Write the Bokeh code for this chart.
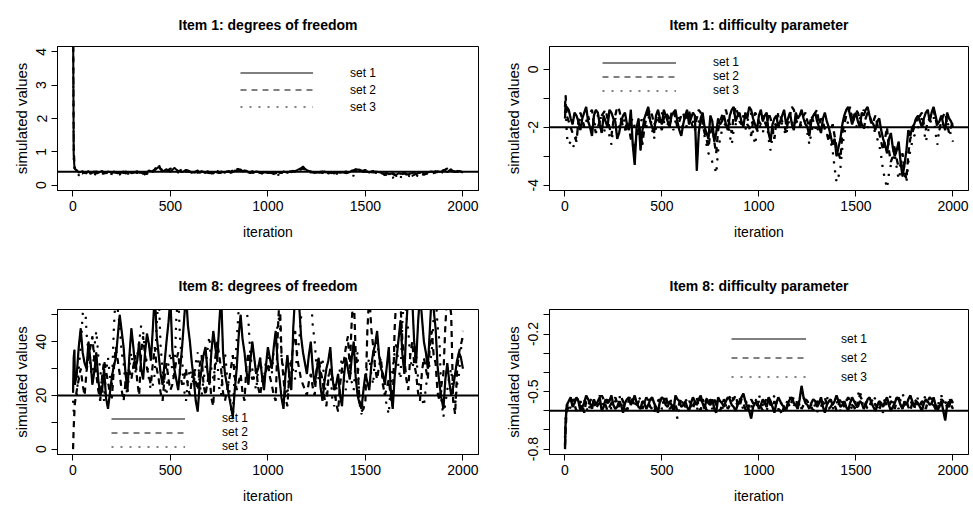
from bokeh.plotting import figure
from bokeh.models import Range1d, FixedTicker, Span, Legend, LegendItem
from bokeh.layouts import column, row
from bokeh.embed import file_html
from bokeh.resources import INLINE

# iteration index of the (thinned) samples
ITER = [1, 4, 8] + list(range(10, 2001, 10))

SET_LABELS = ["set 1", "set 2", "set 3"]
X_TICKS = [0, 500, 1000, 1500, 2000]

# ---------------- Item 1: degrees of freedom ----------------
df1_set1 = [5.2, 0.9, 0.55,
    0.48, 0.45, 0.38, 0.40, 0.42, 0.36, 0.39, 0.42, 0.34, 0.38, 0.41, 0.35, 0.37, 0.40, 0.43, 0.37, 0.36, 0.41, 0.39, 0.36,
    0.41, 0.39, 0.37, 0.35, 0.38, 0.41, 0.35, 0.38, 0.40, 0.36, 0.37, 0.40, 0.42, 0.37, 0.38, 0.34, 0.36, 0.39, 0.44, 0.42,
    0.40, 0.45, 0.50, 0.55, 0.47, 0.42, 0.44, 0.48, 0.43, 0.40, 0.46, 0.52, 0.47, 0.43, 0.41, 0.39, 0.42, 0.46, 0.44, 0.41,
    0.39, 0.38, 0.41, 0.44, 0.37, 0.40, 0.39, 0.36, 0.42, 0.39, 0.37, 0.35, 0.40, 0.38, 0.36, 0.41, 0.39, 0.37, 0.42, 0.40,
    0.37, 0.39, 0.44, 0.42, 0.45, 0.47, 0.41, 0.44, 0.43, 0.40, 0.36, 0.38, 0.39, 0.41, 0.40, 0.37, 0.35, 0.39, 0.38, 0.36,
    0.38, 0.40, 0.37, 0.35, 0.40, 0.38, 0.36, 0.41, 0.39, 0.37, 0.41, 0.39, 0.40, 0.43, 0.45, 0.48, 0.51, 0.56, 0.49, 0.45,
    0.43, 0.41, 0.39, 0.38, 0.37, 0.40, 0.38, 0.36, 0.41, 0.39, 0.35, 0.37, 0.38, 0.35, 0.40, 0.38, 0.37, 0.40, 0.38, 0.36,
    0.37, 0.39, 0.44, 0.42, 0.45, 0.47, 0.46, 0.44, 0.39, 0.41, 0.40, 0.38, 0.41, 0.43, 0.38, 0.40, 0.39, 0.37, 0.36, 0.35,
    0.37, 0.33, 0.34, 0.36, 0.33, 0.31, 0.36, 0.34, 0.35, 0.38, 0.34, 0.32, 0.35, 0.36, 0.38, 0.34, 0.36, 0.37, 0.39, 0.35,
    0.36, 0.38, 0.40, 0.41, 0.39, 0.37, 0.42, 0.40, 0.41, 0.44, 0.42, 0.39, 0.44, 0.46, 0.43, 0.41, 0.40, 0.43, 0.41, 0.38]
df1_set2 = [6.5, 1.2, 0.7,
    0.50, 0.42, 0.39, 0.37, 0.35, 0.40, 0.37, 0.34, 0.36, 0.39, 0.38, 0.41, 0.39, 0.36, 0.35, 0.38, 0.37, 0.35, 0.38, 0.40,
    0.38, 0.37, 0.36, 0.40, 0.38, 0.36, 0.41, 0.39, 0.40, 0.42, 0.39, 0.38, 0.37, 0.35, 0.34, 0.37, 0.35, 0.33, 0.41, 0.38,
    0.43, 0.48, 0.57, 0.62, 0.49, 0.44, 0.42, 0.40, 0.46, 0.50, 0.48, 0.45, 0.43, 0.41, 0.44, 0.47, 0.45, 0.43, 0.41, 0.39,
    0.37, 0.41, 0.39, 0.37, 0.40, 0.42, 0.38, 0.39, 0.37, 0.36, 0.38, 0.40, 0.41, 0.43, 0.40, 0.38, 0.39, 0.41, 0.42, 0.39,
    0.41, 0.44, 0.47, 0.50, 0.48, 0.45, 0.43, 0.41, 0.40, 0.38, 0.39, 0.42, 0.41, 0.39, 0.38, 0.37, 0.36, 0.40, 0.39, 0.38,
    0.37, 0.36, 0.33, 0.31, 0.34, 0.37, 0.38, 0.40, 0.41, 0.38, 0.40, 0.42, 0.43, 0.40, 0.42, 0.45, 0.47, 0.50, 0.46, 0.43,
    0.41, 0.40, 0.38, 0.37, 0.36, 0.39, 0.40, 0.41, 0.39, 0.38, 0.37, 0.35, 0.37, 0.39, 0.38, 0.36, 0.35, 0.38, 0.39, 0.41,
    0.40, 0.37, 0.42, 0.45, 0.48, 0.50, 0.45, 0.42, 0.44, 0.46, 0.43, 0.40, 0.39, 0.38, 0.40, 0.41, 0.38, 0.36, 0.34, 0.32,
    0.31, 0.29, 0.32, 0.34, 0.30, 0.27, 0.29, 0.31, 0.33, 0.35, 0.32, 0.30, 0.26, 0.28, 0.31, 0.33, 0.34, 0.36, 0.33, 0.31,
    0.33, 0.35, 0.37, 0.39, 0.40, 0.42, 0.39, 0.38, 0.42, 0.45, 0.47, 0.50, 0.46, 0.43, 0.41, 0.40, 0.42, 0.44, 0.40, 0.39]
df1_set3 = [4.6, 0.8, 0.5,
    0.42, 0.38, 0.30, 0.26, 0.29, 0.33, 0.36, 0.38, 0.37, 0.35, 0.33, 0.31, 0.34, 0.37, 0.36, 0.34, 0.37, 0.39, 0.35, 0.33,
    0.34, 0.36, 0.34, 0.32, 0.35, 0.38, 0.36, 0.34, 0.35, 0.37, 0.38, 0.40, 0.36, 0.33, 0.31, 0.29, 0.33, 0.36, 0.38, 0.40,
    0.41, 0.43, 0.47, 0.50, 0.48, 0.46, 0.43, 0.41, 0.45, 0.47, 0.44, 0.42, 0.40, 0.38, 0.41, 0.44, 0.42, 0.40, 0.39, 0.37,
    0.36, 0.39, 0.37, 0.35, 0.38, 0.41, 0.40, 0.38, 0.36, 0.34, 0.35, 0.37, 0.38, 0.40, 0.38, 0.36, 0.37, 0.39, 0.40, 0.42,
    0.41, 0.40, 0.44, 0.47, 0.49, 0.52, 0.46, 0.43, 0.41, 0.39, 0.37, 0.36, 0.38, 0.40, 0.39, 0.38, 0.36, 0.35, 0.37, 0.39,
    0.38, 0.37, 0.31, 0.28, 0.30, 0.33, 0.35, 0.38, 0.39, 0.40, 0.38, 0.36, 0.39, 0.41, 0.42, 0.44, 0.48, 0.52, 0.46, 0.42,
    0.40, 0.38, 0.39, 0.41, 0.39, 0.37, 0.38, 0.39, 0.37, 0.36, 0.38, 0.40, 0.39, 0.37, 0.35, 0.33, 0.34, 0.36, 0.37, 0.39,
    0.37, 0.35, 0.30, 0.28, 0.40, 0.44, 0.46, 0.48, 0.42, 0.40, 0.41, 0.43, 0.41, 0.39, 0.37, 0.36, 0.35, 0.34, 0.32, 0.30,
    0.28, 0.27, 0.24, 0.22, 0.26, 0.30, 0.27, 0.25, 0.23, 0.21, 0.25, 0.28, 0.26, 0.24, 0.28, 0.30, 0.27, 0.26, 0.30, 0.33,
    0.35, 0.36, 0.34, 0.33, 0.36, 0.38, 0.40, 0.42, 0.39, 0.37, 0.38, 0.40, 0.44, 0.48, 0.41, 0.38, 0.40, 0.41, 0.39, 0.37]

# ---------------- Item 1: difficulty parameter ----------------
dif1_set1 = [-1.7, -1.2, -1.5,
    -1.3, -1.4, -1.7, -1.9, -1.5, -1.6, -1.8, -2.1, -1.7, -1.5, -1.3, -1.8, -2.0, -2.3, -1.6, -1.4, -1.5, -1.9, -2.2, -1.6,
    -1.8, -2.0, -1.4, -1.5, -1.7, -1.8, -2.4, -2.2, -1.8, -1.6, -1.5, -1.9, -2.1, -1.4, -2.6, -3.3, -2.0, -1.7, -2.8, -2.1,
    -1.7, -1.5, -1.3, -1.8, -2.0, -2.2, -1.6, -1.4, -1.7, -1.9, -1.4, -1.6, -1.8, -2.0, -1.6, -1.5, -1.4, -1.8, -2.1, -2.3,
    -1.9, -1.6, -1.4, -1.9, -1.7, -1.5, -1.6, -3.5, -2.2, -1.7, -1.5, -2.0, -2.2, -2.4, -1.6, -1.8, -2.5, -2.2, -1.7, -1.9,
    -1.8, -1.6, -1.9, -2.1, -1.6, -1.4, -1.3, -1.8, -1.6, -1.5, -1.8, -2.0, -1.5, -1.7, -1.3, -1.4, -1.7, -1.9, -2.1, -1.6,
    -1.4, -1.8, -1.6, -1.5, -2.2, -2.5, -1.9, -1.7, -1.6, -2.0, -1.8, -1.6, -1.4, -1.9, -1.7, -1.5, -1.9, -2.1, -1.5, -1.7,
    -1.6, -1.4, -1.7, -1.9, -2.0, -2.3, -1.8, -1.6, -1.5, -1.8, -2.0, -2.2, -1.7, -1.5, -1.8, -2.0, -2.3, -2.6, -2.4, -3.0,
    -2.7, -2.4, -1.9, -1.6, -1.4, -1.3, -1.6, -1.9, -1.7, -1.5, -1.8, -2.0, -1.5, -1.6, -1.4, -1.3, -1.6, -1.8, -1.9, -2.1,
    -1.8, -1.7, -2.1, -2.4, -2.6, -2.9, -2.4, -2.2, -2.7, -3.0, -2.8, -2.5, -3.2, -3.7, -3.3, -2.8, -2.1, -2.3, -2.0, -1.9,
    -1.7, -1.6, -1.8, -2.0, -1.7, -1.5, -1.4, -1.8, -1.5, -1.3, -1.6, -1.9, -1.8, -1.6, -1.9, -2.1, -1.5, -1.7, -1.8, -2.0]
dif1_set2 = [-1.3, -0.9, -1.4,
    -1.6, -1.8, -2.0, -2.2, -2.3, -2.5, -1.8, -1.5, -1.7, -2.0, -1.9, -1.7, -1.5, -1.4, -1.9, -2.2, -2.0, -1.8, -1.6, -1.5,
    -1.4, -1.7, -2.0, -2.3, -1.8, -1.6, -1.3, -1.4, -1.7, -2.0, -2.1, -1.8, -2.0, -2.4, -2.5, -2.8, -2.3, -2.0, -2.2, -2.6,
    -2.0, -1.7, -1.5, -1.4, -1.6, -1.9, -1.8, -1.6, -1.9, -2.1, -1.7, -1.5, -1.6, -1.8, -1.5, -1.4, -1.7, -2.0, -1.8, -1.6,
    -1.5, -1.8, -1.6, -1.4, -1.8, -2.0, -1.9, -1.7, -1.4, -1.5, -1.9, -2.2, -2.4, -2.7, -2.2, -2.0, -2.5, -2.9, -2.1, -1.8,
    -1.6, -1.5, -1.4, -1.7, -1.9, -2.2, -1.6, -1.3, -1.5, -1.8, -1.9, -1.6, -1.7, -1.9, -2.0, -2.3, -1.8, -1.5, -1.6, -1.8,
    -1.9, -1.6, -1.8, -2.0, -1.5, -1.7, -2.0, -2.4, -1.8, -1.5, -1.6, -1.8, -1.9, -2.2, -1.8, -1.6, -1.3, -1.4, -1.7, -1.9,
    -2.0, -1.7, -1.6, -1.5, -1.8, -2.0, -1.6, -1.8, -1.5, -1.4, -1.9, -1.7, -1.8, -2.1, -2.2, -2.5, -2.1, -1.9, -2.3, -2.7,
    -2.9, -3.1, -2.2, -1.9, -1.6, -1.5, -1.3, -1.8, -1.6, -1.4, -1.5, -1.7, -1.9, -2.1, -1.7, -1.5, -1.6, -1.9, -1.8, -1.6,
    -1.9, -2.2, -2.5, -2.8, -2.4, -2.0, -2.8, -3.2, -3.0, -2.6, -3.1, -3.4, -3.3, -2.9, -3.5, -3.8, -2.9, -2.4, -2.2, -2.0,
    -1.7, -1.8, -1.6, -1.5, -1.9, -2.1, -1.8, -1.7, -1.5, -1.4, -1.7, -2.0, -2.1, -1.8, -1.6, -1.5, -1.9, -2.2, -2.0, -1.8]
dif1_set3 = [-1.5, -1.3, -1.8,
    -2.3, -2.6, -2.5, -2.7, -2.6, -2.3, -1.9, -1.7, -1.8, -2.0, -1.8, -1.6, -1.9, -2.1, -2.0, -1.8, -1.6, -1.5, -1.9, -2.2,
    -2.0, -1.9, -2.3, -2.6, -2.0, -1.7, -1.8, -2.0, -1.7, -1.6, -1.9, -2.2, -2.0, -1.8, -1.7, -2.0, -2.1, -2.3, -1.9, -1.6,
    -1.8, -2.0, -1.7, -1.6, -2.1, -2.4, -2.0, -1.8, -1.6, -1.5, -1.8, -2.0, -1.9, -1.7, -1.9, -2.1, -1.8, -1.6, -1.7, -1.9,
    -2.0, -2.1, -1.9, -1.7, -1.6, -1.8, -2.1, -2.0, -1.8, -1.6, -2.0, -2.3, -2.6, -2.9, -3.0, -3.2, -3.3, -3.6, -2.8, -2.4,
    -2.1, -2.0, -1.8, -1.7, -2.3, -2.6, -2.1, -1.9, -1.8, -1.6, -1.7, -2.0, -2.1, -1.8, -1.6, -1.5, -2.2, -2.6, -2.2, -1.9,
    -2.0, -2.2, -1.9, -1.7, -2.4, -2.8, -2.3, -2.0, -1.8, -1.6, -1.7, -1.9, -2.1, -2.3, -1.9, -1.7, -1.8, -2.0, -1.8, -1.6,
    -1.8, -2.0, -1.9, -1.7, -2.2, -2.6, -2.2, -1.9, -2.0, -2.2, -1.8, -1.6, -1.8, -2.0, -2.2, -2.4, -2.5, -2.8, -3.4, -3.9,
    -3.7, -3.4, -2.7, -2.2, -2.0, -1.8, -1.7, -1.5, -1.8, -2.0, -1.9, -1.7, -1.6, -1.4, -1.7, -2.0, -2.0, -1.8, -2.0, -2.2,
    -2.4, -2.6, -3.0, -3.5, -3.8, -4.1, -3.6, -3.3, -3.1, -2.9, -3.4, -3.8, -3.5, -3.2, -3.6, -3.9, -3.2, -2.8, -2.5, -2.3,
    -2.2, -2.0, -1.8, -1.7, -2.1, -2.5, -2.2, -1.9, -1.7, -1.6, -2.2, -2.6, -2.0, -1.8, -1.9, -2.1, -1.8, -2.0, -2.3, -2.5]

# ---------------- Item 8: degrees of freedom ----------------
df8_set1 = [21, 34, 37,
    24, 28, 38, 45, 36, 32, 30, 40, 33, 24, 29, 36, 26, 20, 22, 30, 19, 15, 21, 27,
    31, 34, 42, 50, 44, 38, 28, 22, 35, 45, 38, 30, 33, 40, 30, 26, 36, 43, 39, 33,
    45, 58, 42, 35, 28, 24, 32, 40, 47, 56, 37, 30, 26, 22, 30, 38, 48, 58, 46, 40,
    32, 26, 18, 14, 24, 30, 35, 38, 29, 24, 36, 44, 38, 33, 46, 58, 36, 28, 24, 20,
    16, 12, 22, 30, 42, 50, 41, 36, 29, 24, 33, 40, 34, 28, 30, 34, 27, 22, 31, 38,
    34, 30, 38, 44, 32, 26, 19, 15, 28, 35, 27, 22, 45, 58, 60, 54, 42, 36, 32, 28,
    35, 40, 30, 24, 29, 34, 23, 18, 25, 30, 33, 38, 27, 22, 24, 28, 20, 16, 27, 34,
    30, 26, 34, 40, 27, 20, 17, 15, 22, 28, 25, 22, 31, 36, 39, 44, 35, 30, 28, 24,
    31, 38, 22, 15, 27, 34, 41, 48, 35, 28, 46, 58, 60, 56, 40, 32, 47, 58, 49, 40,
    36, 30, 44, 58, 52, 45, 31, 24, 19, 15, 26, 32, 25, 20, 23, 28, 33, 36, 34, 30]
df8_set2 = [0, 8, 14,
    17, 22, 26, 30, 24, 20, 29, 35, 38, 42, 33, 28, 22, 18, 27, 33, 29, 25, 21, 19,
    30, 38, 33, 28, 22, 18, 25, 30, 29, 26, 31, 35, 25, 20, 36, 42, 35, 30, 27, 24,
    32, 38, 30, 26, 21, 18, 27, 32, 26, 22, 24, 28, 33, 36, 28, 24, 26, 30, 23, 20,
    26, 30, 25, 22, 31, 35, 24, 20, 25, 28, 19, 16, 34, 40, 35, 30, 21, 18, 22, 25,
    30, 35, 27, 22, 25, 28, 21, 18, 31, 36, 29, 26, 27, 30, 23, 20, 25, 28, 29, 32,
    27, 24, 20, 18, 42, 58, 35, 26, 19, 16, 28, 32, 39, 44, 34, 30, 26, 24, 22, 20,
    25, 28, 23, 20, 30, 34, 29, 26, 19, 16, 26, 30, 27, 24, 17, 14, 24, 30, 33, 38,
    42, 30, 48, 58, 36, 30, 18, 14, 15, 18, 44, 58, 45, 38, 30, 26, 31, 34, 24, 20,
    23, 26, 19, 16, 45, 58, 60, 54, 40, 34, 26, 22, 35, 40, 32, 28, 21, 18, 29, 34,
    30, 26, 38, 44, 35, 32, 21, 18, 24, 28, 46, 58, 56, 50, 18, 13, 29, 36, 39, 42]
df8_set3 = [18, 14, 16,
    17, 20, 30, 38, 50, 58, 43, 36, 31, 26, 38, 44, 35, 30, 22, 18, 29, 34, 27, 24,
    45, 58, 52, 46, 36, 32, 24, 20, 31, 36, 30, 28, 35, 40, 46, 44, 36, 32, 26, 22,
    24, 28, 47, 58, 38, 30, 23, 20, 32, 36, 29, 26, 48, 58, 40, 34, 22, 18, 26, 30,
    27, 24, 32, 36, 24, 20, 26, 30, 37, 42, 30, 26, 31, 34, 23, 20, 32, 36, 28, 24,
    16, 11, 30, 40, 52, 58, 60, 56, 51, 48, 35, 30, 25, 22, 30, 34, 28, 26, 33, 36,
    31, 28, 37, 42, 46, 50, 34, 30, 23, 20, 30, 34, 29, 26, 36, 40, 49, 58, 60, 56,
    52, 58, 46, 40, 30, 26, 31, 34, 24, 20, 27, 30, 19, 16, 22, 26, 30, 34, 26, 22,
    27, 30, 25, 22, 32, 36, 17, 13, 22, 26, 31, 34, 28, 24, 36, 40, 35, 32, 24, 20,
    16, 13, 24, 30, 36, 40, 30, 26, 48, 58, 50, 44, 34, 30, 33, 36, 26, 22, 19, 16,
    23, 28, 32, 36, 49, 58, 46, 40, 18, 12, 17, 22, 27, 30, 20, 16, 24, 28, 37, 44]

# ---------------- Item 8: difficulty parameter ----------------
dif8_set1 = [-0.80, -0.66, -0.60,
    -0.57, -0.55, -0.53, -0.58, -0.56, -0.53, -0.55, -0.60, -0.58, -0.56, -0.52, -0.54, -0.56, -0.59, -0.54, -0.57, -0.55, -0.53, -0.60, -0.58,
    -0.54, -0.56, -0.55, -0.52, -0.57, -0.59, -0.58, -0.55, -0.57, -0.61, -0.56, -0.54, -0.53, -0.57, -0.55, -0.52, -0.56, -0.58, -0.59, -0.55,
    -0.56, -0.59, -0.57, -0.54, -0.53, -0.56, -0.58, -0.61, -0.55, -0.53, -0.54, -0.57, -0.58, -0.55, -0.57, -0.60, -0.52, -0.54, -0.55, -0.58,
    -0.57, -0.55, -0.58, -0.60, -0.56, -0.53, -0.55, -0.57, -0.54, -0.52, -0.56, -0.59, -0.54, -0.56, -0.57, -0.54, -0.59, -0.61, -0.53, -0.55,
    -0.56, -0.58, -0.55, -0.53, -0.54, -0.57, -0.58, -0.60, -0.57, -0.55, -0.53, -0.51, -0.55, -0.58, -0.60, -0.64, -0.58, -0.56, -0.55, -0.59,
    -0.57, -0.54, -0.56, -0.58, -0.53, -0.55, -0.58, -0.61, -0.56, -0.53, -0.55, -0.57, -0.58, -0.60, -0.56, -0.54, -0.53, -0.56, -0.57, -0.59,
    -0.54, -0.47, -0.53, -0.56, -0.57, -0.59, -0.56, -0.54, -0.55, -0.58, -0.56, -0.53, -0.58, -0.61, -0.57, -0.55, -0.54, -0.57, -0.55, -0.52,
    -0.55, -0.58, -0.57, -0.55, -0.58, -0.60, -0.56, -0.53, -0.55, -0.57, -0.58, -0.55, -0.56, -0.59, -0.57, -0.54, -0.53, -0.56, -0.58, -0.60,
    -0.57, -0.55, -0.56, -0.58, -0.55, -0.53, -0.57, -0.60, -0.58, -0.56, -0.53, -0.54, -0.57, -0.59, -0.55, -0.57, -0.54, -0.52, -0.55, -0.58,
    -0.55, -0.56, -0.58, -0.60, -0.56, -0.54, -0.55, -0.57, -0.56, -0.53, -0.57, -0.59, -0.58, -0.55, -0.60, -0.65, -0.57, -0.58, -0.54, -0.56]
dif8_set2 = [-0.78, -0.70, -0.62,
    -0.60, -0.58, -0.56, -0.54, -0.57, -0.60, -0.58, -0.55, -0.57, -0.61, -0.55, -0.57, -0.55, -0.53, -0.56, -0.59, -0.57, -0.56, -0.52, -0.54,
    -0.57, -0.60, -0.58, -0.56, -0.55, -0.53, -0.56, -0.58, -0.53, -0.55, -0.58, -0.60, -0.54, -0.52, -0.55, -0.57, -0.58, -0.55, -0.56, -0.59,
    -0.56, -0.53, -0.55, -0.58, -0.59, -0.61, -0.57, -0.55, -0.54, -0.57, -0.55, -0.52, -0.57, -0.59, -0.58, -0.56, -0.57, -0.60, -0.56, -0.54,
    -0.56, -0.58, -0.57, -0.55, -0.56, -0.59, -0.55, -0.53, -0.58, -0.60, -0.54, -0.56, -0.60, -0.58, -0.55, -0.53, -0.54, -0.57, -0.58, -0.60,
    -0.57, -0.54, -0.56, -0.59, -0.57, -0.55, -0.54, -0.52, -0.56, -0.58, -0.54, -0.56, -0.59, -0.61, -0.57, -0.54, -0.56, -0.58, -0.57, -0.55,
    -0.58, -0.60, -0.56, -0.53, -0.55, -0.57, -0.58, -0.55, -0.57, -0.59, -0.60, -0.62, -0.57, -0.55, -0.56, -0.58, -0.55, -0.53, -0.54, -0.57,
    -0.56, -0.59, -0.57, -0.54, -0.55, -0.57, -0.58, -0.60, -0.57, -0.55, -0.56, -0.58, -0.55, -0.53, -0.57, -0.59, -0.58, -0.56, -0.57, -0.60,
    -0.57, -0.54, -0.56, -0.58, -0.55, -0.53, -0.55, -0.57, -0.58, -0.60, -0.55, -0.52, -0.54, -0.56, -0.57, -0.59, -0.58, -0.55, -0.54, -0.57,
    -0.58, -0.60, -0.56, -0.54, -0.55, -0.57, -0.58, -0.55, -0.56, -0.59, -0.55, -0.53, -0.56, -0.58, -0.57, -0.55, -0.58, -0.60, -0.56, -0.54,
    -0.55, -0.58, -0.57, -0.55, -0.56, -0.59, -0.55, -0.53, -0.54, -0.57, -0.59, -0.61, -0.56, -0.54, -0.55, -0.58, -0.57, -0.55, -0.57, -0.59]
dif8_set3 = [-0.74, -0.64, -0.58,
    -0.56, -0.60, -0.58, -0.56, -0.54, -0.52, -0.55, -0.58, -0.56, -0.54, -0.58, -0.61, -0.57, -0.55, -0.55, -0.58, -0.54, -0.52, -0.55, -0.57,
    -0.56, -0.54, -0.57, -0.59, -0.57, -0.55, -0.53, -0.52, -0.55, -0.57, -0.58, -0.60, -0.57, -0.55, -0.56, -0.58, -0.55, -0.53, -0.54, -0.56,
    -0.55, -0.57, -0.54, -0.52, -0.56, -0.58, -0.57, -0.54, -0.56, -0.59, -0.58, -0.56, -0.55, -0.53, -0.56, -0.58, -0.60, -0.64, -0.58, -0.56,
    -0.55, -0.53, -0.56, -0.57, -0.58, -0.55, -0.57, -0.60, -0.56, -0.54, -0.55, -0.58, -0.54, -0.52, -0.57, -0.59, -0.57, -0.55, -0.56, -0.57,
    -0.58, -0.60, -0.57, -0.55, -0.53, -0.51, -0.55, -0.57, -0.56, -0.53, -0.57, -0.59, -0.56, -0.55, -0.57, -0.58, -0.56, -0.54, -0.55, -0.52,
    -0.54, -0.57, -0.58, -0.60, -0.56, -0.54, -0.55, -0.52, -0.56, -0.58, -0.57, -0.55, -0.58, -0.60, -0.55, -0.53, -0.55, -0.57, -0.57, -0.55,
    -0.57, -0.55, -0.54, -0.52, -0.56, -0.58, -0.57, -0.55, -0.58, -0.61, -0.56, -0.54, -0.55, -0.57, -0.54, -0.52, -0.57, -0.59, -0.57, -0.55,
    -0.57, -0.60, -0.55, -0.53, -0.54, -0.56, -0.57, -0.59, -0.56, -0.55, -0.52, -0.49, -0.55, -0.58, -0.56, -0.54, -0.55, -0.57, -0.55, -0.53,
    -0.55, -0.57, -0.59, -0.61, -0.57, -0.55, -0.54, -0.52, -0.55, -0.57, -0.57, -0.59, -0.54, -0.51, -0.54, -0.56, -0.56, -0.54, -0.57, -0.59,
    -0.56, -0.53, -0.55, -0.57, -0.54, -0.52, -0.56, -0.58, -0.57, -0.55, -0.56, -0.59, -0.54, -0.52, -0.55, -0.56, -0.55, -0.53, -0.56, -0.57]

# reference (horizontal) lines
df1_ref, dif1_ref, df8_ref, dif8_ref = 0.4, -2.0, 20, -0.6

# y ticks and their labels (R drops overlapping labels)
df1_yticks = [0, 1, 2, 3, 4]
df1_ylabels = ["0", "1", "2", "3", "4"]
dif1_yticks = [-4, -3, -2, -1, 0]
dif1_ylabels = ["-4", "", "-2", "", "0"]
df8_yticks = [0, 10, 20, 30, 40, 50]
df8_ylabels = ["0", "", "20", "", "40", ""]
dif8_yticks = [-0.8, -0.7, -0.6, -0.5, -0.4, -0.3, -0.2, -0.1]
dif8_ylabels = ["-0.8", "", "", "-0.5", "", "", "-0.2", ""]

FONT = "Liberation Sans"
DASHES = ["solid", "6 5", "2 7"]


def r_range(lo, hi):
    pad = (hi - lo) * 0.04
    return Range1d(lo - pad, hi + pad)


def panel(title, chains, ref, yticks, ylabels, ylim, size, borders, title_gap, trace_w,
          leg_xy, leg_row, leg_gw, leg_so):
    w, h = size
    bl, br, bt, bb = borders
    p = figure(width=w, height=h, output_backend="svg", toolbar_location=None,
               x_range=r_range(1, 2000), y_range=r_range(*ylim),
               min_border_left=bl, min_border_right=br, min_border_top=bt, min_border_bottom=bb,
               title=title)
    p.background_fill_color = "white"
    p.border_fill_color = "white"
    p.outline_line_color = "black"
    p.outline_line_width = 1
    p.xgrid.grid_line_color = None
    p.ygrid.grid_line_color = None

    p.title.align = "center"
    p.title.text_font = FONT
    p.title.text_font_size = "14px"
    p.title.text_font_style = "bold"
    p.title.text_color = "black"
    p.title.standoff = title_gap

    for ax in (p.xaxis[0], p.yaxis[0]):
        ax.axis_line_color = "black"
        ax.major_tick_line_color = "black"
        ax.major_tick_out = 6
        ax.major_tick_in = 0
        ax.minor_tick_line_color = None
        ax.major_label_text_font = FONT
        ax.major_label_text_font_size = "14px"
        ax.major_label_text_color = "black"
        ax.axis_label_text_font = FONT
        ax.axis_label_text_font_size = "14px"
        ax.axis_label_text_font_style = "normal"
        ax.axis_label_text_color = "black"

    xa = p.xaxis[0]
    xa.ticker = FixedTicker(ticks=X_TICKS)
    xa.major_label_overrides = {t: str(t) for t in X_TICKS}
    xa.major_label_standoff = 4
    xa.axis_label = "iteration"
    xa.axis_label_standoff = 10

    ya = p.yaxis[0]
    ya.ticker = FixedTicker(ticks=yticks)
    ya.major_label_overrides = dict(zip(yticks, ylabels))
    ya.major_label_orientation = "parallel"
    ya.major_label_standoff = 5
    ya.axis_label = "simulated values"
    ya.axis_label_text_font_size = "15px"
    ya.axis_label_standoff = 4

    items = []
    for vals, dash, lab in zip(chains, DASHES, SET_LABELS):
        if len(vals) != len(ITER):
            raise ValueError(f"{title} {lab}: {len(vals)} values vs {len(ITER)} iterations")
        # thin copy (hidden under the trace) that serves as the legend key
        key = p.line(ITER, vals, line_color="black", line_width=1, line_dash=dash)
        p.line(ITER, vals, line_color="black", line_width=trace_w, line_dash=dash)
        items.append(LegendItem(label=lab, renderers=[key]))

    p.add_layout(Span(location=ref, dimension="width", line_color="black", line_width=2))

    leg = Legend(items=items, location=leg_xy, orientation="vertical",
                 glyph_width=leg_gw, glyph_height=leg_row, label_height=leg_row,
                 label_standoff=leg_so, spacing=0, padding=0, margin=0,
                 label_text_font=FONT, label_text_font_size="12px", label_text_color="black",
                 border_line_color=None, background_fill_alpha=0)
    p.add_layout(leg)
    return p


p1 = panel("Item 1: degrees of freedom", [df1_set1, df1_set2, df1_set3], df1_ref,
           df1_yticks, df1_ylabels, (0, 4), (483, 253), (57, 5, 45, 63), 28, 2.0,
           (183, 75), 17, 73, 37)
p2 = panel("Item 1: difficulty parameter", [dif1_set1, dif1_set2, dif1_set3], dif1_ref,
           dif1_yticks, dif1_ylabels, (-4, 0.6), (490, 253), (66, 5, 45, 63), 28, 2.3,
           (53, 93), 11, 74, 37)
p3 = panel("Item 8: degrees of freedom", [df8_set1, df8_set2, df8_set3], df8_ref,
           df8_yticks, df8_ylabels, (0, 50), (483, 253), (57, 5, 56, 51), 32, 2.2,
           (54, 1), 11, 74, 37)
p4 = panel("Item 8: difficulty parameter", [dif8_set1, dif8_set2, dif8_set3], dif8_ref,
           dif8_yticks, dif8_ylabels, (-0.8, -0.1), (490, 253), (66, 5, 56, 51), 32, 2.4,
           (182, 68), 19, 75, 35)

layout = column(row(p1, p2, spacing=0), row(p3, p4, spacing=0), spacing=0)

open("out.html", "w").write(file_html(layout, INLINE))
